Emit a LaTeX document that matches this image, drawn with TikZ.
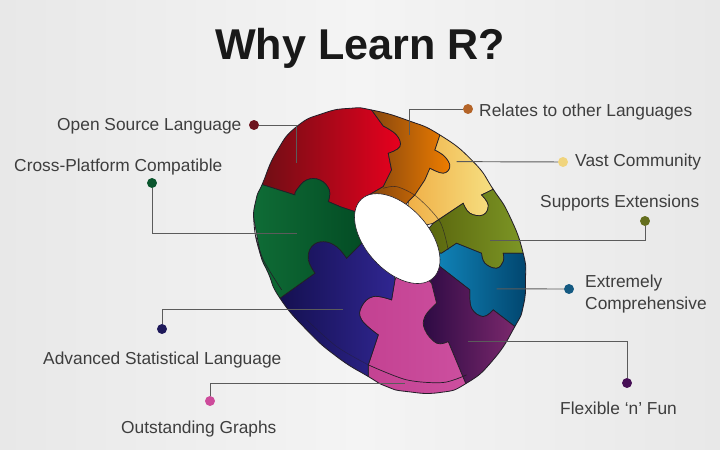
\documentclass[tikz,border=0pt]{standalone}
\usepackage{fontspec}
\setmainfont{Liberation Sans}
\definecolor{bgside}{RGB}{232,232,232}
\definecolor{bgmid}{RGB}{244,244,244}
\definecolor{inkgray}{RGB}{62,62,62}
\definecolor{rimdark}{RGB}{35,30,40}
\definecolor{redA}{RGB}{105,15,20}\definecolor{redB}{RGB}{232,0,30}
\definecolor{orgA}{RGB}{125,65,15}\definecolor{orgB}{RGB}{238,125,0}
\definecolor{ylwA}{RGB}{240,175,70}\definecolor{ylwB}{RGB}{246,228,135}
\definecolor{olvA}{RGB}{85,95,10}\definecolor{olvB}{RGB}{128,155,40}
\definecolor{tealA}{RGB}{20,145,200}\definecolor{tealB}{RGB}{0,65,105}
\definecolor{purA}{RGB}{40,8,65}\definecolor{purB}{RGB}{135,45,115}
\definecolor{pnkA}{RGB}{195,65,145}\definecolor{pnkB}{RGB}{205,80,160}
\definecolor{navA}{RGB}{18,14,75}\definecolor{navB}{RGB}{48,38,145}
\definecolor{grnA}{RGB}{16,110,55}\definecolor{grnB}{RGB}{0,68,32}
\definecolor{dotred}{RGB}{110,20,30}\definecolor{dotgrn}{RGB}{10,85,45}
\definecolor{dotorg}{RGB}{180,100,40}\definecolor{dotylw}{RGB}{240,212,125}
\definecolor{dotolv}{RGB}{100,110,30}\definecolor{dotteal}{RGB}{20,90,130}
\definecolor{dotpur}{RGB}{70,15,85}\definecolor{dotpnk}{RGB}{205,75,155}
\definecolor{dotnav}{RGB}{30,25,90}
\tikzset{
  piece/.style={draw=rimdark,line width=0.6pt,left color=#1A,right color=#1B},
  tab/.style={smooth,tension=0.7},
  leader/.style={draw=inkgray!85,line width=0.8pt},
  dotmark/.style={circle,fill=#1,inner sep=0pt,minimum size=8.5pt},
  lbl/.style={anchor=base west,text=inkgray,inner sep=0pt,font=\fontsize{14.8}{18.3}\selectfont},
}
\begin{document}
\begin{tikzpicture}[x=0.03cm,y=-0.03cm]
\useasboundingbox (0,0) rectangle (720,450);
\fill[left color=bgside,right color=bgside,middle color=bgmid] (0,0) rectangle (720,450);
%%%title
\node (title) at (360,60) [anchor=base,inner sep=0pt,text=black!90,font=\fontsize{36.8}{40}\selectfont\bfseries] {Why Learn R?};
%%%disc
\begin{scope}[shift={(240,90)},x=0.01cm,y=-0.01cm]
\def\outline{plot[smooth cycle,tension=0.9] coordinates {(395,60)(500,90)(600,135)(700,215)(760,298)(810,380)(850,490)(857,570)(850,650)(825,710)(760,810)(680,880)(600,908)(500,905)(440,890)(385,860)(290,800)(200,720)(120,625)(85,550)(60,490)(42,400)(48,330)(68,280)(110,185)(170,110)(250,70)(330,55)}}
\begin{scope}
\clip \outline;
%% red
\draw[piece=red] (345,365) -- (300,350) -- plot[tab] coordinates {(265,335)(268,300)(240,270)(200,270)(170,300)(165,315)} -- (70,285) -- (50,275) -- (40,40) -- (385,45) -- (395,60) -- plot[tab] coordinates {(430,108)(470,135)(480,170)(445,190)} -- (455,240) -- (430,290) -- (370,325) -- cycle;
%% orange
\draw[piece=org] (370,325) -- (430,290) -- (455,240) -- (445,190) -- plot[tab] coordinates {(445,190)(480,170)(470,135)(430,108)} -- (395,60) -- (385,45) -- (620,110) -- (600,135) -- (585,180) -- plot[tab] coordinates {(585,180)(615,200)(630,230)(610,250)(570,235)} -- (555,270) -- (525,315) -- (505,335) -- (450,400) -- cycle;
%% yellow
\draw[piece=ylw] (505,335) -- (525,315) -- (555,270) -- (570,235) -- plot[tab] coordinates {(570,235)(610,250)(630,230)(615,200)(585,180)} -- (600,135) -- (620,110) -- (785,280) -- (760,298) -- (725,315) -- plot[tab] coordinates {(725,315)(745,345)(730,375)(690,370)(670,340)} -- (580,400) -- (500,420) -- cycle;
%% olive
\draw[piece=olv] (580,400) -- (670,340) -- plot[tab] coordinates {(670,340)(690,370)(730,375)(745,345)(725,315)} -- (760,298) -- (785,280) -- (880,490) -- (850,490) -- (790,490) -- plot[tab] coordinates {(790,490)(790,515)(770,535)(735,520)(725,490)} -- (650,460) -- (605,490) -- (520,470) -- cycle;
%% teal
\draw[piece=teal] (605,490) -- (650,460) -- (725,490) -- plot[tab] coordinates {(725,490)(735,520)(770,535)(790,515)(790,490)} -- (850,490) -- (880,490) -- (870,740) -- (825,710) -- (760,660) -- plot[tab] coordinates {(760,660)(730,680)(695,655)(690,600)} -- (600,530) -- (530,490) -- cycle;
%% purple
\draw[piece=pur] (600,530) -- (690,600) -- plot[tab] coordinates {(690,600)(695,655)(730,680)(760,660)} -- (825,710) -- (870,740) -- (700,930) -- (675,875) -- (625,755) -- plot[tab] coordinates {(625,755)(590,760)(555,720)(555,680)(590,640)} -- (575,580) -- (530,500) -- cycle;
%% pink
\draw[piece=pnk] (575,580) -- (590,640) -- plot[tab] coordinates {(590,640)(555,680)(555,720)(590,760)(625,755)} -- (675,875) -- (700,930) -- (370,900) -- (385,860) -- (385,825) -- (415,735) -- plot[tab] coordinates {(415,735)(365,690)(365,650)(400,620)(455,630)} -- (465,570) -- (500,500) -- cycle;
%% navy
\draw[piece=nav] (465,570) -- (455,630) -- plot[tab] coordinates {(455,630)(400,620)(365,650)(365,690)(415,735)} -- (385,825) -- (385,860) -- (370,900) -- (90,650) -- (120,625) -- (225,550) -- plot[tab] coordinates {(225,550)(205,510)(215,470)(250,455)(290,470)(320,505)} -- (365,460) -- (450,450) -- cycle;
%% green
\draw[piece=grn] (365,460) -- (320,505) -- plot[tab] coordinates {(320,505)(290,470)(250,455)(215,470)(205,510)(225,550)} -- (120,625) -- (90,650) -- (20,270) -- (70,285) -- (165,315) -- plot[tab] coordinates {(165,315)(170,300)(200,270)(240,270)(268,300)(265,335)} -- (300,350) -- (345,365) -- (450,430) -- cycle;
%% rim lines
\draw[draw=rimdark,line width=0.5pt] plot[smooth] coordinates {(48,440)(70,510)(125,600)};
\draw[draw=rimdark,line width=0.5pt,opacity=0.45] plot[smooth] coordinates {(200,690)(290,770)(385,825)};
\draw[draw=rimdark,line width=0.6pt] plot[smooth] coordinates {(385,825)(500,870)(610,878)(680,855)};
\draw[draw=rimdark,line width=0.5pt,opacity=0.7] plot[smooth] coordinates {(430,295)(470,290)(530,320)(600,395)(625,480)};
\end{scope}
\draw[draw=rimdark,line width=0.7pt] \outline;
%% hole
\draw[draw=rimdark,line width=0.5pt,fill=white] (472,446) circle [x radius=160,y radius=95,rotate=-48];
%% leader ends
\coordinate (endOpen) at (170,220);
\coordinate (endCross) at (170,432);
\coordinate (endRelates) at (510,135);
\coordinate (endVast) at (650,215);
\coordinate (endSupports) at (750,452);
\coordinate (endExtreme) at (770,597);
\coordinate (endFlex) at (685,755);
\coordinate (endGraphs) at (495,880);
\coordinate (endStat) at (310,660);
\end{scope}
%%%labels
\node[lbl] (open) at (57,130.5) {Open Source Language};
\node[lbl] (cross) at (14,171) {Cross-Platform Compatible};
\node[lbl] (relates) at (479,116) {Relates to other Languages};
\node[lbl] (vast) at (575,167) {Vast Community};
\node[lbl] (supports) at (540,207) {Supports Extensions};
\node[lbl,anchor=west,align=left] (extreme) at (585,294) {Extremely\\Comprehensive};
\node[lbl] (stat) at (43,364) {Advanced Statistical Language};
\node[lbl] (graphs) at (121,433) {Outstanding Graphs};
\node[lbl] (flex) at (560,414) {Flexible `n' Fun};
%%%dots
\node[dotmark=dotred] (dotOpen) at (254,125) {};
\node[dotmark=dotgrn] (dotCross) at (152,183) {};
\node[dotmark=dotorg] (dotRelates) at (468,109) {};
\node[dotmark=dotylw] (dotVast) at (563,162) {};
\node[dotmark=dotolv] (dotSupports) at (645,221) {};
\node[dotmark=dotteal] (dotExtreme) at (569,289) {};
\node[dotmark=dotpur] (dotFlex) at (627,383) {};
\node[dotmark=dotpnk] (dotGraphs) at (210,401) {};
\node[dotmark=dotnav] (dotStat) at (162,329) {};
%%%leaders
\draw[leader] (dotOpen) -| (endOpen);
\draw[leader] (dotCross) |- (endCross);
\draw[leader] (dotRelates) -| (endRelates);
\draw[leader] (dotVast) -- (endVast);
\draw[leader] (dotSupports) |- (endSupports);
\draw[leader] (dotExtreme) -- (endExtreme);
\draw[leader] (dotFlex) |- (endFlex);
\draw[leader] (dotGraphs) |- (endGraphs);
\draw[leader] (dotStat) |- (endStat);
\end{tikzpicture}
\end{document}
